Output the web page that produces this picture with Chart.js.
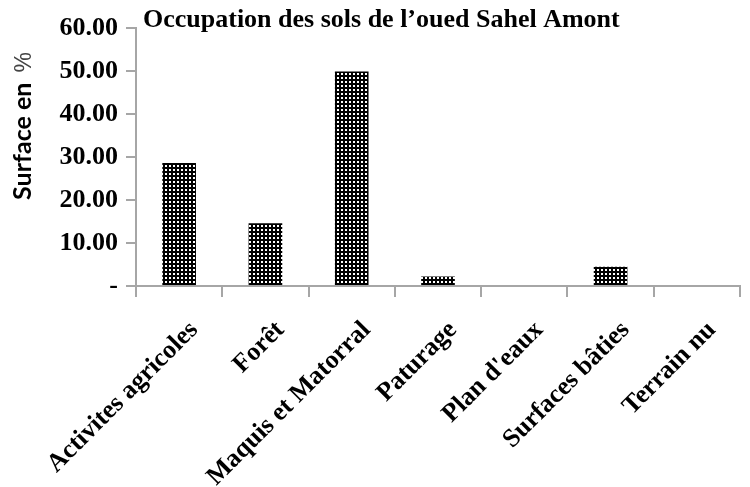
<!DOCTYPE html>
<html>
<head>
<meta charset="utf-8">
<script src="https://cdn.jsdelivr.net/npm/chart.js@4.4.1/dist/chart.umd.min.js"></script>
<style>
  html, body { margin: 0; padding: 0; background: #ffffff; }
  #wrap { width: 750px; height: 487px; }
</style>
</head>
<body>
<div id="wrap"><canvas id="c" width="750" height="487"></canvas></div>
<script>
// ---- data ----
const chartTitle = "Occupation des sols de l\u2019oued Sahel Amont";
const yAxisTitle = "Surface en ";
const yAxisUnit = "%";
const categories = ["Activites agricoles", "For\u00eat", "Maquis et Matorral", "Paturage", "Plan d'eaux", "Surfaces b\u00e2ties", "Terrain nu"];
const surfacePct = [28.6, 14.6, 49.9, 2.2, 0, 4.5, 0];
const yTickValues = [0, 10, 20, 30, 40, 50, 60];

// ---- dotted pattern fill ----
function makePattern() {
  const p = document.createElement('canvas');
  p.width = 4; p.height = 4;
  const g = p.getContext('2d');
  g.fillStyle = '#000';
  g.fillRect(0, 0, 4, 4);
  g.fillStyle = '#fff';
  g.fillRect(1, 1, 2, 2);
  return g.createPattern(p, 'repeat');
}

const serif = "'Liberation Serif', 'Times New Roman', serif";
const axisGray = '#a6a6a6';

const titlesPlugin = {
  id: 'titles',
  afterDraw(chart) {
    const ctx = chart.ctx;
    const area = chart.chartArea;
    ctx.save();
    ctx.fillStyle = '#000';
    ctx.font = "bold 26px " + serif;
    ctx.textAlign = 'left';
    ctx.textBaseline = 'alphabetic';
    ctx.fillText(chartTitle, area.left + 7, 27);
    // rotated y title
    ctx.translate(31, 126);
    ctx.rotate(-Math.PI / 2);
    const fBold = "bold 25px Lato, 'Open Sans', 'Liberation Sans', sans-serif";
    const fUnit = "23px 'Liberation Sans', sans-serif";
    ctx.font = fBold;
    const w1 = ctx.measureText(yAxisTitle).width;
    ctx.font = fUnit;
    const w2 = ctx.measureText(yAxisUnit).width;
    const start = -(w1 + w2 + 4) / 2;
    ctx.font = fBold;
    ctx.fillText(yAxisTitle, start, 0);
    ctx.font = fUnit;
    ctx.fillStyle = '#444';
    ctx.fillText(yAxisUnit, start + w1 + 4, 0);
    ctx.restore();
  }
};

new Chart(document.getElementById('c'), {
  type: 'bar',
  data: {
    labels: categories,
    datasets: [{
      data: surfacePct,
      backgroundColor: makePattern(),
      borderWidth: 0,
      barPercentage: 0.39,
      categoryPercentage: 1.0
    }]
  },
  options: {
    responsive: false,
    animation: false,
    devicePixelRatio: 1,
    layout: { padding: { top: 28, right: 10, left: 0, bottom: 0 } },
    plugins: { legend: { display: false }, tooltip: { enabled: false }, title: { display: false } },
    scales: {
      x: {
        grid: { display: true, drawOnChartArea: false, offset: true, color: axisGray, lineWidth: 2, tickLength: 11 },
        border: { display: true, color: axisGray, width: 2 },
        ticks: {
          autoSkip: false, minRotation: 45, maxRotation: 45, padding: 18, labelOffset: 15,
          color: '#000', font: { family: serif, size: 26, weight: 'bold' }
        },
        afterFit(scale) { scale.height = 201; }
      },
      y: {
        min: 0, max: 60,
        afterBuildTicks(scale) { scale.ticks = yTickValues.map(v => ({ value: v })); },
        grid: { display: true, drawOnChartArea: false, color: axisGray, lineWidth: 2, tickLength: 10 },
        border: { display: true, color: axisGray, width: 2 },
        ticks: {
          padding: 8, color: '#000',
          font: { family: serif, size: 26, weight: 'bold' },
          callback: (v) => v === 0 ? '-' : Number(v).toFixed(2)
        },
        afterFit(scale) { scale.width = 136; }
      }
    }
  },
  plugins: [titlesPlugin]
});
</script>
</body>
</html>
